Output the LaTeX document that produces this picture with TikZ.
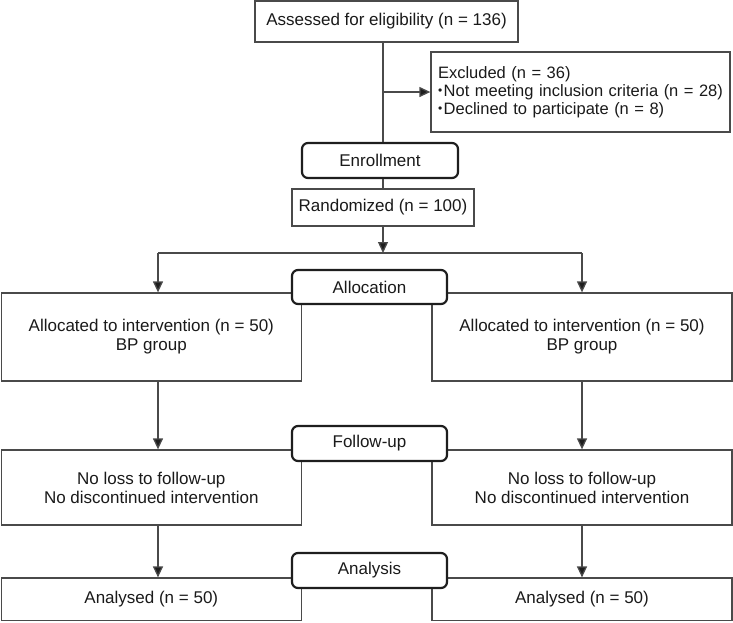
\documentclass[tikz,border=0pt]{standalone}
\usepackage{fontspec}
\setmainfont{Liberation Sans}
\usetikzlibrary{arrows.meta}
\definecolor{boxline}{HTML}{4A4A4A}
\definecolor{darkline}{HTML}{1E1E1E}
\definecolor{txt}{HTML}{1A1A1A}
\newcommand{\smallbul}{{\fontsize{12}{12}\selectfont\raisebox{1.6pt}{•}}\hspace{1.5pt}}
\begin{document}
\begin{tikzpicture}[x=1pt,y=-1pt,
  every node/.style={font=\fontsize{17}{19}\selectfont, text=txt},
  plainbox/.style={draw=boxline, line width=1.3pt, fill=white, inner sep=0pt, align=center},
  stagebox/.style={draw=darkline, line width=2.2pt, rounded corners=6pt, fill=white, inner sep=0pt, align=center, minimum width=155pt, minimum height=34pt},
  conn/.style={draw=boxline, line width=1.3pt},
  arr/.style={conn, -{Triangle[length=11pt,width=10pt,fill=darkline]}}]
\useasboundingbox (0,0) rectangle (733,622);

% plain boxes
\node[plainbox, minimum width=263pt, minimum height=41pt] (assess) at (386.5,21.5) {Assessed for eligibility (n = 136)};
\node[plainbox, minimum width=299pt, minimum height=80pt, text width=285pt, inner xsep=7pt, align=left, font=\fontsize{16.5}{18}\selectfont] (excl) at (580.5,92)
  {Excluded (n = 36)\\\smallbul Not meeting inclusion criteria (n = 28)\\\smallbul Declined to participate (n = 8)};
\node[plainbox, minimum width=182pt, minimum height=37pt] (rand) at (383,207.5) {Randomized (n = 100)};

\node[plainbox, minimum width=300pt, minimum height=88pt] (a1) at (151.3,337) {Allocated to intervention (n = 50)\\BP group};
\node[plainbox, minimum width=300pt, minimum height=88pt] (a2) at (582,337) {Allocated to intervention (n = 50)\\BP group};

\node[plainbox, minimum width=300pt, minimum height=75pt] (f1) at (151.3,487.5) {No loss to follow-up\\No discontinued intervention};
\node[plainbox, minimum width=300pt, minimum height=75pt] (f2) at (582,487.5) {No loss to follow-up\\No discontinued intervention};

\node[plainbox, minimum width=300pt, minimum height=42.5pt] (an1) at (151.3,599.3) {Analysed (n = 50)};
\node[plainbox, minimum width=300pt, minimum height=42.5pt] (an2) at (582,599.3) {Analysed (n = 50)};

% stage boxes
\node[stagebox, minimum width=156pt, minimum height=35pt] (enroll) at (380,160.5) {Enrollment};
\node[stagebox] (alloc) at (369.5,287) {Allocation};
\node[stagebox, minimum height=35pt] (follow) at (369.5,443.5) {Follow-up};
\node[stagebox, minimum height=35pt] (analysis) at (369.5,570.5) {Analysis};

% columns
\coordinate (lc) at (158,0);
\coordinate (rc) at (582,0);
\coordinate (split) at (383,253);

% connectors
\draw[conn] (assess.south -| rand.north) -- (enroll.north -| rand.north);
\draw[arr] (excl.west -| rand.north) -- (excl.west);
\draw[conn] (enroll.south -| rand.north) -- (rand.north);
\draw[arr] (rand.south) -- (split);
\draw[conn] (lc |- split) -- (rc |- split);
\draw[arr] (lc |- split) -- (lc |- a1.north);
\draw[arr] (rc |- split) -- (rc |- a2.north);
\draw[arr] (lc |- a1.south) -- (lc |- f1.north);
\draw[arr] (rc |- a2.south) -- (rc |- f2.north);
\draw[arr] (lc |- f1.south) -- (lc |- an1.north);
\draw[arr] (rc |- f2.south) -- (rc |- an2.north);
\end{tikzpicture}
\end{document}
